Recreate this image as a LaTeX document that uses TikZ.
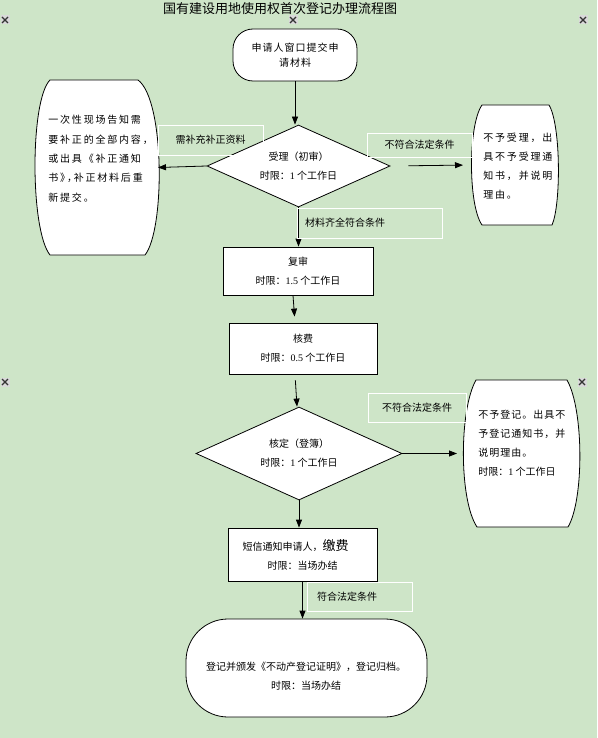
\documentclass[tikz,border=0pt]{standalone}
\usepackage{fontspec}
\setmainfont{Noto Sans CJK SC}
\newfontfamily\cjk{Noto Sans CJK SC}
\newfontfamily\cjkw[LetterSpace=18]{Noto Sans CJK SC}
\newfontfamily\cjkh[LetterSpace=18,RawFeature=+halt]{Noto Sans CJK SC}
\newfontfamily\cjkm[LetterSpace=10]{Noto Sans CJK SC}
\newfontfamily\lat{Liberation Serif}
\usetikzlibrary{shapes.geometric,arrows.meta}
\definecolor{bg}{RGB}{206,229,200}
\newcommand\brokenimg[2]{%
  \fill[gray!30] (#1-4.5,#2-4.5) rectangle (#1+4.5,#2+4.5);
  \draw[line width=1.1pt, black!80] (#1-3,#2-3) -- (#1+3,#2+3) (#1-3,#2+3) -- (#1+3,#2-3);}
\begin{document}
\begin{tikzpicture}[x=1pt,y=-1pt,
  font=\cjk\fontsize{10}{19}\selectfont,
  line width=0.8pt,
  arr/.style={-{Triangle[length=8pt,width=6pt]}, line width=0.8pt},
  box/.style={draw, fill=white, rectangle, inner sep=0, align=center},
  dia/.style={diamond, draw, fill=white, aspect=2.2, inner sep=0, align=center},
  lbl/.style={draw=white, line width=0.6pt, inner sep=0},
  bar/.style={draw, fill=white, line width=0.8pt},
  hold/.style={inner sep=0, outer sep=0},
  btxt/.style={anchor=north west, align=left, inner sep=0}]
\fill[bg] (0,0) rectangle (597,738);
\useasboundingbox (0,0) rectangle (597,738);

\brokenimg{5}{20}
\brokenimg{293}{20}
\brokenimg{583}{20}
\brokenimg{5}{382}
\brokenimg{582}{382}

\node[font=\cjk\fontsize{13}{15}\selectfont] (title) at (280,9) {国有建设用地使用权首次登记办理流程图};

% start
\node[draw, fill=white, rounded corners=20pt, minimum width=124pt, minimum height=52pt,
      align=center, inner sep=0, font=\cjkm\fontsize{10}{15}\selectfont] (start) at (295,55) {申请人窗口提交申\\请材料};

% first diamond
\node[dia, minimum width=183pt, minimum height=82pt] (d1) at (298.5,166)
  {受理（初审）\\时限：{\lat 1} 个工作日};

% left barrel
\draw[bar] (50,80) -- (138,80) .. controls (165,100) and (165,230) .. (145,255)
  -- (50,255) .. controls (30,230) and (30,100) .. (50,80) -- cycle;
\node[hold, minimum width=123pt, minimum height=175pt] (bz) at (96.5,167.5) {};
\node[btxt, font=\cjkw\fontsize{10}{19.3}\selectfont] (bztxt) at (48,115)
  {一次性现场告知需\\{\cjkh 要补正的全部内容，}\\或出具《补正通知\\{\cjkh 书》，补正材料后重}\\新提交。};

% right barrel 1
\draw[bar] (482,105) -- (549,105) .. controls (561,125) and (561,205) .. (552,225)
  -- (482,225) .. controls (468,205) and (468,125) .. (482,105) -- cycle;
\node[hold, minimum width=86pt, minimum height=120pt] (r1) at (515,165) {};
\node[btxt, font=\cjkw\fontsize{10}{19}\selectfont] (r1txt) at (483,133)
  {不予受理，出\\具不予受理通\\知书，并说明\\理由。};

% review boxes
\node[box, minimum width=150pt, minimum height=48pt] (fs) at (298,271)
  {复审\\时限：{\lat 1.5} 个工作日};
\node[box, minimum width=148pt, minimum height=51pt] (hf) at (303,348.5)
  {核费\\时限：{\lat 0.5} 个工作日};

% second diamond
\node[dia, minimum width=206pt, minimum height=93pt] (d2) at (299,453.5)
  {核定（登簿）\\时限：{\lat 1} 个工作日};

% right barrel 2
\draw[bar] (476,380) -- (567,380) .. controls (584,410) and (584,500) .. (568,527)
  -- (477,527) .. controls (459,500) and (459,410) .. (476,380) -- cycle;
\node[hold, minimum width=117pt, minimum height=147pt] (r2) at (521.5,453.5) {};
\node[btxt, font=\cjkm\fontsize{10}{19}\selectfont] (r2txt) at (478,410)
  {不予登记。出具不\\予登记通知书，并\\说明理由。\\{\cjk 时限：{\lat 1} 个工作日}};

% notify box
\node[box, minimum width=149pt, minimum height=53pt] (sx) at (302.5,554.5)
  {短信通知申请人，{\fontsize{13}{15}\selectfont 缴费}\hspace*{14pt}\\时限：当场办结};

% final
\node[draw, fill=white, rounded corners=42pt, minimum width=241pt, minimum height=98pt] (fin) at (306.5,668) {};
\node[align=center, inner sep=0] (fintxt) at (306,676)
  {登记并颁发《不动产登记证明》，登记归档。\\时限：当场办结};

% arrows
\draw[arr] (start.south) -- (start.south |- d1.north);
\draw[arr] (d1.west) -- (bz.east);
\draw[arr, shorten <=18pt, shorten >=9pt] (d1.east) -- (r1.west);
\draw[arr] (d1.south) -- (d1.south |- fs.north);
\draw[arr, shorten >=6pt] ([xshift=-5pt]fs.south) -- ([xshift=-8pt]hf.north);
\draw[arr, shorten <=6pt] ([xshift=-8pt]hf.south) -- ([xshift=-2pt]d2.north);
\draw[arr, shorten >=6pt] (d2.east) -- (r2.west);
\draw[arr] (d2.south) -- (d2.south |- sx.north);
\draw[arr] (sx.south) -- (sx.south |- fin.north);

% condition labels
\node[lbl, minimum width=105pt, minimum height=30pt] (L1) at (210.5,140) {需补充补正资料};
\node[lbl, minimum width=105pt, minimum height=24pt] (L2) at (419.5,145) {不符合法定条件};
\node[lbl, text width=129pt, inner xsep=8pt, minimum height=30pt, align=left] (L3) at (369.5,223) {材料齐全符合条件};
\node[lbl, minimum width=98pt, minimum height=29pt] (L4) at (417,407.5) {不符合法定条件};
\node[lbl, text width=85pt, inner xsep=10pt, minimum height=29pt, align=left] (L5) at (359.5,596.5) {符合法定条件};
\end{tikzpicture}
\end{document}
